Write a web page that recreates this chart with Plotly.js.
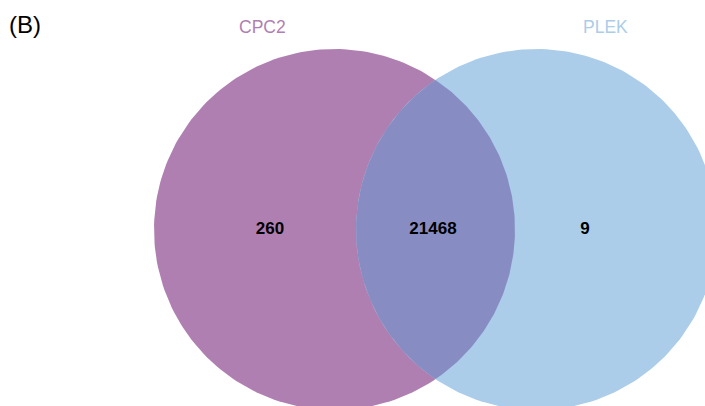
<!DOCTYPE html>
<html><head><meta charset="utf-8">
<script src="https://cdn.plot.ly/plotly-3.0.1.min.js"></script>
<style>html,body{margin:0;padding:0;background:#fff;}#chart{width:705px;height:406px;}</style>
</head><body><div id="chart"></div>
<script>
// Data
var setNames = ["CPC2", "PLEK"];
var regionLabels = ["CPC2 only", "CPC2 ∩ PLEK", "PLEK only"];
var regionCounts = [260, 21468, 9];
var panelLabel = "(B)";

// Geometry (pixel-like units on the axes)
var R = 180.5, cy = 229.5;
var cx = [334.5, 536.5];
var setColors = ["#b07fb2", "#abcde9"];
var overlapColor = "#878dc2";

function circlePts(x0, y0, r, a0, a1, n) {
  var xs = [], ys = [];
  for (var i = 0; i <= n; i++) {
    var t = a0 + (a1 - a0) * i / n;
    xs.push(x0 + r * Math.cos(t)); ys.push(y0 + r * Math.sin(t));
  }
  return [xs, ys];
}
var traces = [];
for (var k = 0; k < 2; k++) {
  var p = circlePts(cx[k], cy, R, 0, 2 * Math.PI, 240);
  traces.push({x: p[0], y: p[1], type: "scatter", mode: "lines", fill: "toself",
    fillcolor: setColors[k], line: {width: 0, color: setColors[k]}, hoverinfo: "skip", showlegend: false});
}
// lens
var d = (cx[1] - cx[0]) / 2;
var h = Math.sqrt(R * R - d * d);
var ang = Math.atan2(h, d);
var a = circlePts(cx[0], cy, R, -ang, ang, 120);
var b = circlePts(cx[1], cy, R, Math.PI - ang, Math.PI + ang, 120);
traces.push({x: a[0].concat(b[0]), y: a[1].concat(b[1]), type: "scatter", mode: "lines", fill: "toself",
  fillcolor: overlapColor, line: {width: 0, color: overlapColor}, hoverinfo: "skip", showlegend: false});

// count labels
var labelX = [270, 433, 585];
traces.push({x: labelX, y: [cy + 0.5, cy + 0.5, cy + 0.5], type: "scatter", mode: "text",
  text: regionCounts.map(String), textposition: "middle center",
  textfont: {family: "Liberation Sans, Arial, sans-serif", size: 17, color: "#000", weight: "bold"},
  hoverinfo: "skip", showlegend: false});

var layout = {
  width: 705, height: 406,
  margin: {l: 0, r: 0, t: 0, b: 0},
  paper_bgcolor: "#fff", plot_bgcolor: "#fff",
  xaxis: {range: [0, 705], visible: false, fixedrange: true},
  yaxis: {range: [406, 0], visible: false, fixedrange: true},
  font: {family: "Liberation Sans, Arial, sans-serif"},
  annotations: [
    {x: 7, y: 24, xref: "x", yref: "y", text: panelLabel, showarrow: false, xanchor: "left", yanchor: "middle",
     font: {size: 24, color: "#000"}},
    {x: 262, y: 27, xref: "x", yref: "y", text: setNames[0], showarrow: false, xanchor: "center", yanchor: "middle",
     font: {size: 17.5, color: setColors[0]}},
    {x: 605, y: 27, xref: "x", yref: "y", text: setNames[1], showarrow: false, xanchor: "center", yanchor: "middle",
     font: {size: 17.5, color: setColors[1]}}
  ]
};
Plotly.newPlot("chart", traces, layout, {staticPlot: true, displayModeBar: false});
</script>
</body></html>
